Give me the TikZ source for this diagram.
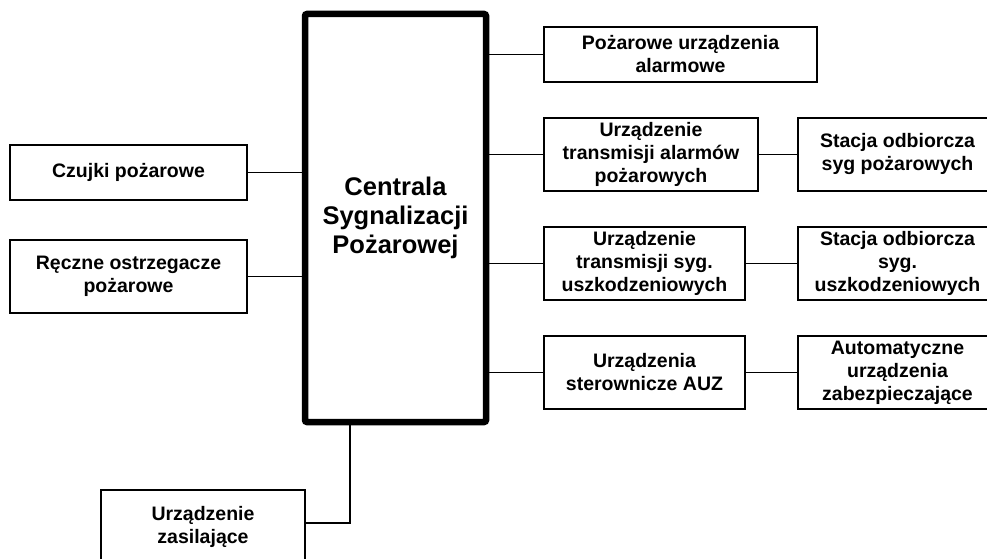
\documentclass[tikz,border=0pt]{standalone}
\usepackage{fontspec}
\setmainfont{Liberation Sans}
\begin{document}
\begin{tikzpicture}[x=1pt,y=-1pt,
  box/.style={draw, line width=1.5pt, inner sep=0pt, align=center,
    font=\fontsize{19.5}{23}\selectfont\bfseries},
  mainbox/.style={draw, line width=6.5pt, rounded corners=2pt, inner sep=0pt, align=center,
    font=\fontsize{25.5}{29}\selectfont\bfseries},
  link/.style={line width=1.5pt}]
\useasboundingbox (0,0) rectangle (987,559);
\clip (0,0) rectangle (987,559);
\node[mainbox, minimum width=181pt, minimum height=408pt] (central) at (395.5,218) {Centrala\\Sygnalizacji\\Pożarowej};
\node[box, minimum width=237pt, minimum height=55pt] (czujki) at (128.5,172.5) {Czujki pożarowe};
\node[box, minimum width=237pt, minimum height=73pt] (reczne) at (128.5,276.5) {Ręczne ostrzegacze\\pożarowe};
\node[box, minimum width=204pt, minimum height=74pt] (zasil) at (203,527) {Urządzenie\\zasilające};
\node[box, minimum width=273pt, minimum height=55pt] (alarm) at (680.5,54.5) {Pożarowe urządzenia\\alarmowe};
\node[box, minimum width=214pt, minimum height=73pt] (trans1) at (651,154.5) {Urządzenie\\transmisji alarmów\\pożarowych};
\node[box, minimum width=199pt, minimum height=73pt] (stacja1) at (897.5,154.5) {Stacja odbiorcza\\syg pożarowych};
\node[box, minimum width=201pt, minimum height=73pt] (trans2) at (644.5,263.5) {Urządzenie\\transmisji syg.\\uszkodzeniowych};
\node[box, minimum width=199pt, minimum height=73pt] (stacja2) at (897.5,263.5) {Stacja odbiorcza\\syg.\\uszkodzeniowych};
\node[box, minimum width=201pt, minimum height=73pt] (auz) at (644.5,372.5) {Urządzenia\\sterownicze AUZ};
\node[box, minimum width=199pt, minimum height=73pt] (auto) at (897.5,372.5) {Automatyczne\\urządzenia\\zabezpieczające};
\coordinate (bj) at (350,422);
\draw[link] (czujki.east) -- (czujki.east -| central.west);
\draw[link] (reczne.east) -- (reczne.east -| central.west);
\draw[link] (alarm.west -| central.east) -- (alarm.west);
\draw[link] (trans1.west -| central.east) -- (trans1.west);
\draw[link] (trans2.west -| central.east) -- (trans2.west);
\draw[link] (auz.west -| central.east) -- (auz.west);
\draw[link] (trans1.east) -- (stacja1.west);
\draw[link] (trans2.east) -- (stacja2.west);
\draw[link] (auz.east) -- (auto.west);
\draw[link] (bj) |- ([yshift=4pt]zasil.east);
\end{tikzpicture}
\end{document}
